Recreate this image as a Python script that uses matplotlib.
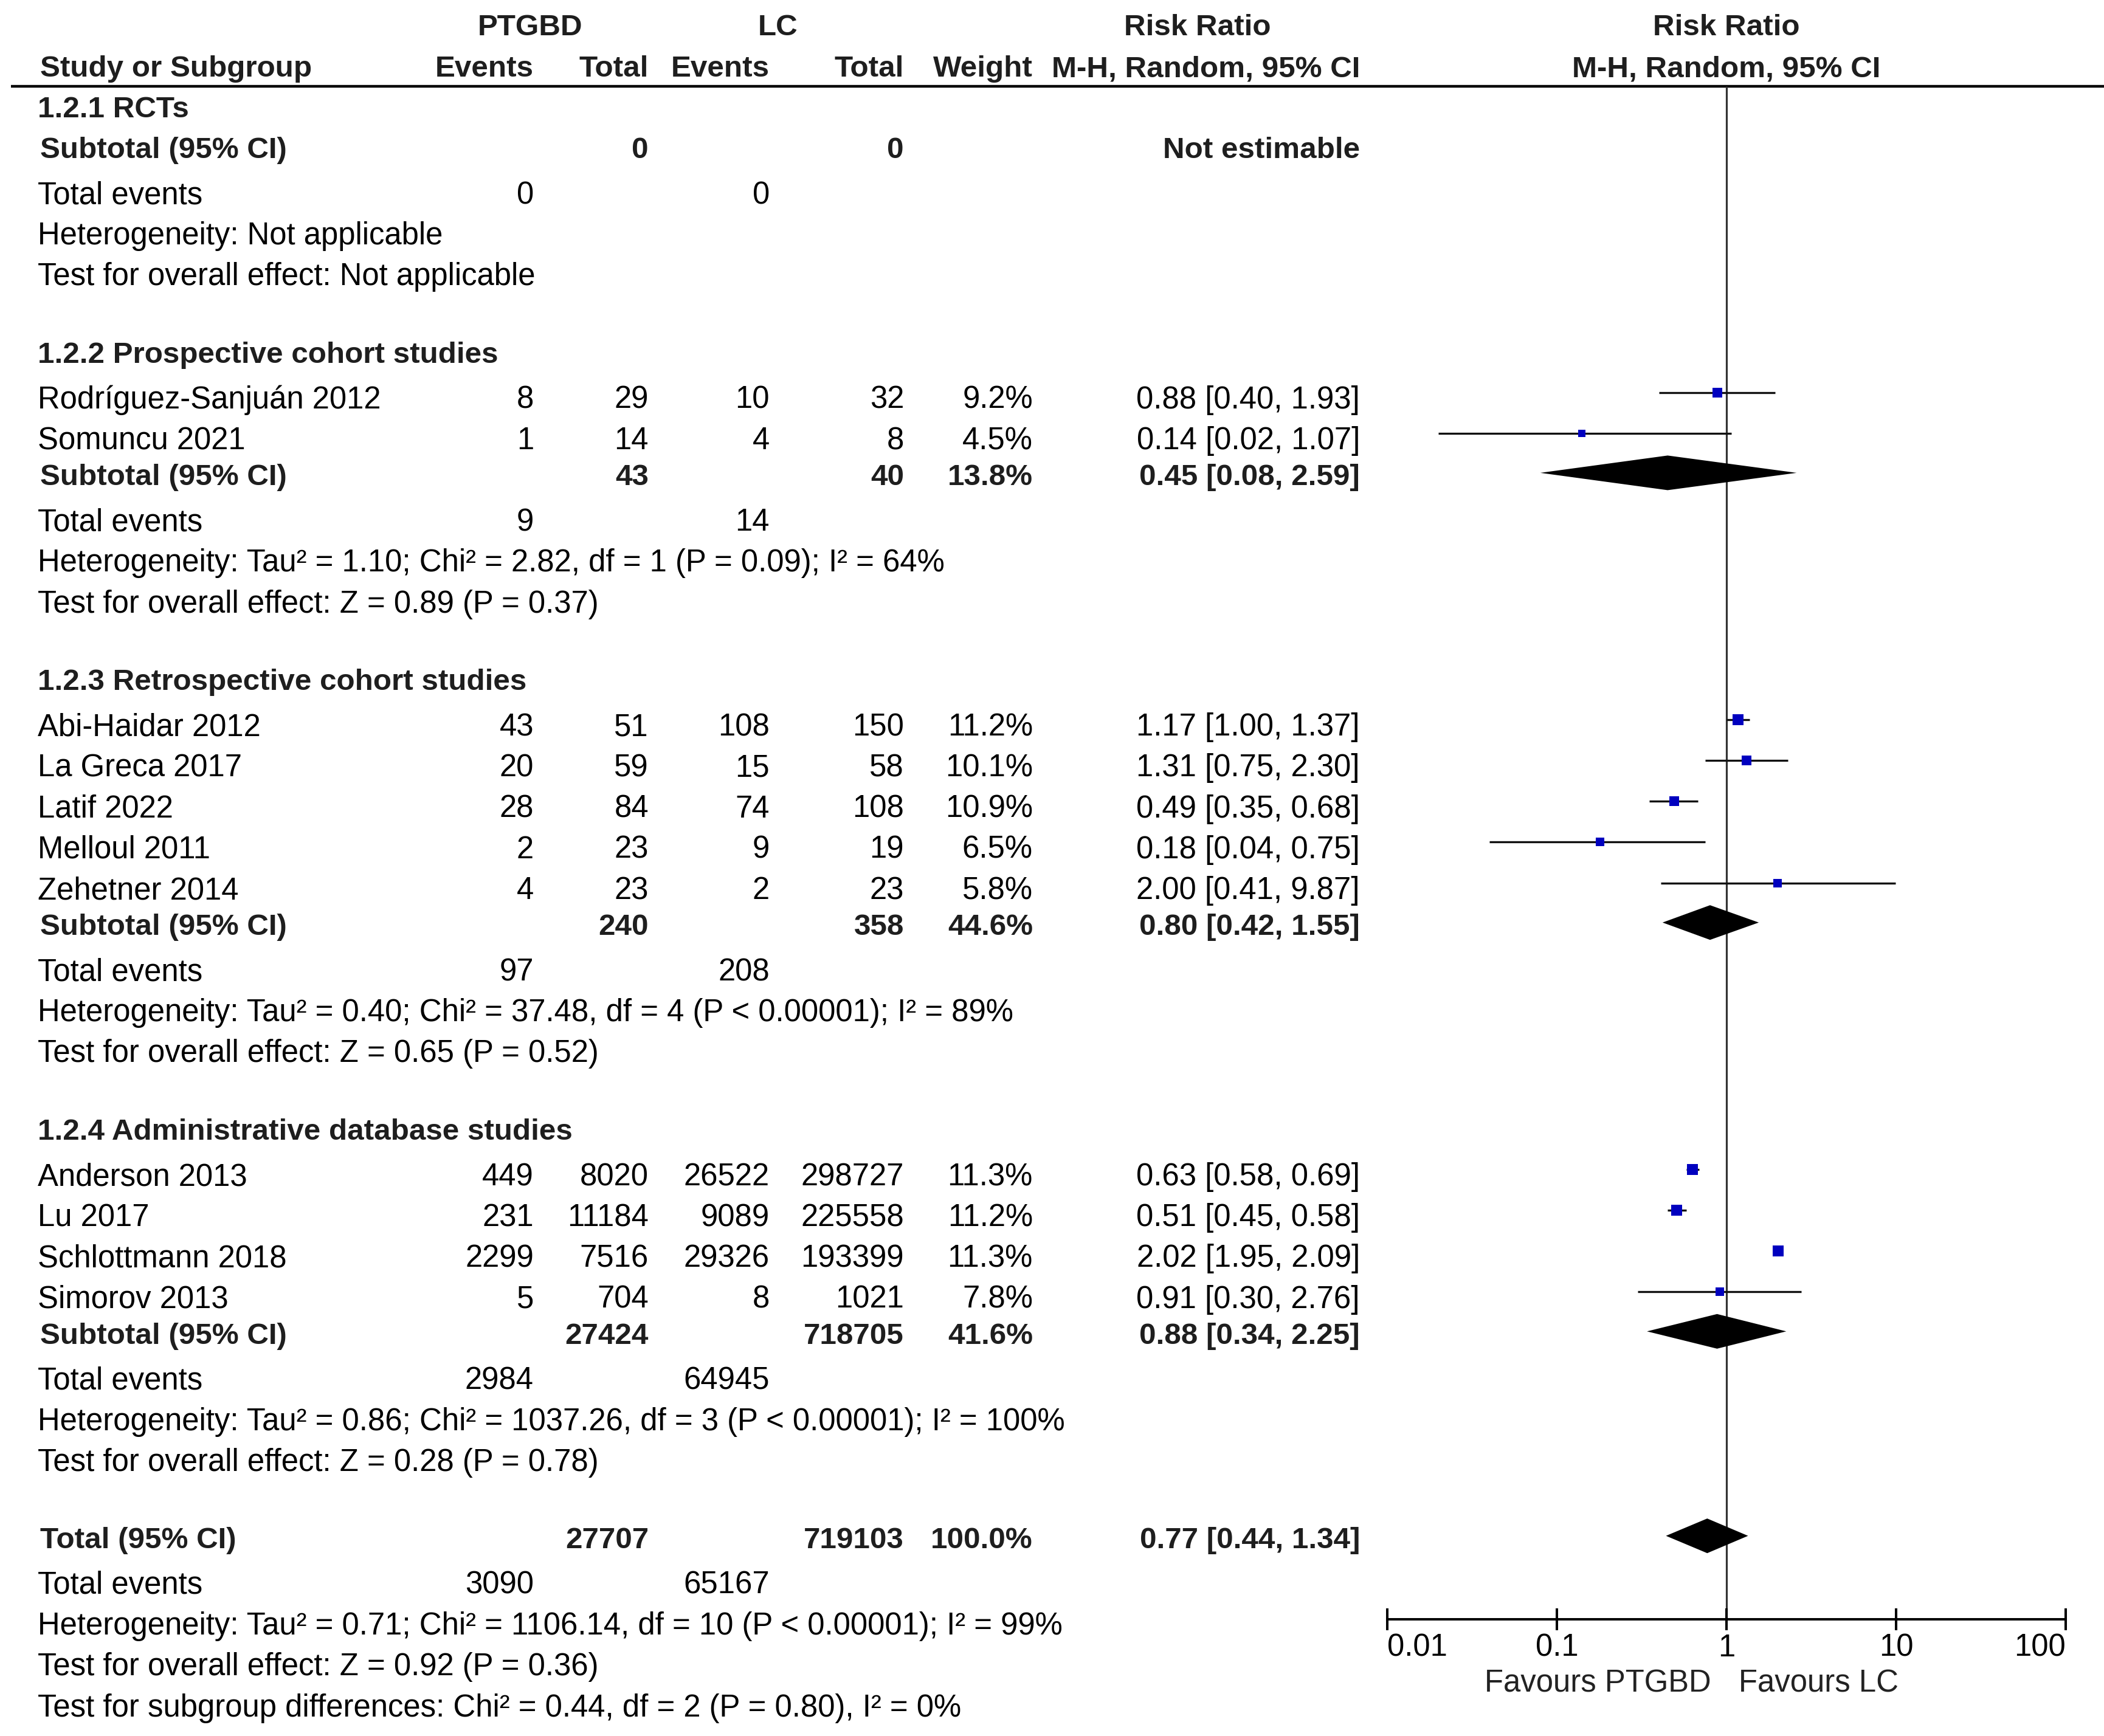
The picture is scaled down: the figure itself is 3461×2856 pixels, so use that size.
import numpy as np
import matplotlib
matplotlib.use("Agg")
import matplotlib.pyplot as plt
from matplotlib.ticker import NullLocator, NullFormatter

# ------------------------------------------------------------------ data
group_titles = ["1.2.1 RCTs", "1.2.2 Prospective cohort studies",
                "1.2.3 Retrospective cohort studies",
                "1.2.4 Administrative database studies"]
group_sizes = [0, 2, 5, 4]

study_names = ["Rodríguez-Sanjuán 2012", "Somuncu 2021",
               "Abi-Haidar 2012", "La Greca 2017", "Latif 2022", "Melloul 2011", "Zehetner 2014",
               "Anderson 2013", "Lu 2017", "Schlottmann 2018", "Simorov 2013"]
ptgbd_events = [8, 1, 43, 20, 28, 2, 4, 449, 231, 2299, 5]
ptgbd_totals = [29, 14, 51, 59, 84, 23, 23, 8020, 11184, 7516, 704]
lc_events = [10, 4, 108, 15, 74, 9, 2, 26522, 9089, 29326, 8]
lc_totals = [32, 8, 150, 58, 108, 19, 23, 298727, 225558, 193399, 1021]
weights = [9.2, 4.5, 11.2, 10.1, 10.9, 6.5, 5.8, 11.3, 11.2, 11.3, 7.8]
rr = [0.88, 0.14, 1.17, 1.31, 0.49, 0.18, 2.00, 0.63, 0.51, 2.02, 0.91]
rr_lo = [0.40, 0.02, 1.00, 0.75, 0.35, 0.04, 0.41, 0.58, 0.45, 1.95, 0.30]
rr_hi = [1.93, 1.07, 1.37, 2.30, 0.68, 0.75, 9.87, 0.69, 0.58, 2.09, 2.76]

sub_ptgbd_totals = [0, 43, 240, 27424]
sub_lc_totals = [0, 40, 358, 718705]
sub_weights = [None, 13.8, 44.6, 41.6]
sub_rr = [None, 0.45, 0.80, 0.88]
sub_lo = [None, 0.08, 0.42, 0.34]
sub_hi = [None, 2.59, 1.55, 2.25]
sub_ptgbd_events = [0, 9, 97, 2984]
sub_lc_events = [0, 14, 208, 64945]
sub_heterogeneity = [
    "Heterogeneity: Not applicable",
    "Heterogeneity: Tau² = 1.10; Chi² = 2.82, df = 1 (P = 0.09); I² = 64%",
    "Heterogeneity: Tau² = 0.40; Chi² = 37.48, df = 4 (P < 0.00001); I² = 89%",
    "Heterogeneity: Tau² = 0.86; Chi² = 1037.26, df = 3 (P < 0.00001); I² = 100%",
]
sub_overall = [
    "Test for overall effect: Not applicable",
    "Test for overall effect: Z = 0.89 (P = 0.37)",
    "Test for overall effect: Z = 0.65 (P = 0.52)",
    "Test for overall effect: Z = 0.28 (P = 0.78)",
]

total_ptgbd = 27707
total_lc = 719103
total_weight = 100.0
total_rr = 0.77
total_lo = 0.44
total_hi = 1.34
total_ptgbd_events = 3090
total_lc_events = 65167
total_heterogeneity = "Heterogeneity: Tau² = 0.71; Chi² = 1106.14, df = 10 (P < 0.00001); I² = 99%"
total_overall = "Test for overall effect: Z = 0.92 (P = 0.36)"
subgroup_test = "Test for subgroup differences: Chi² = 0.44, df = 2 (P = 0.80), I² = 0%"

axis_ticks = [0.01, 0.1, 1, 10, 100]
axis_tick_labels = ["0.01", "0.1", "1", "10", "100"]
favours_left = "Favours PTGBD"
favours_right = "Favours LC"

# ------------------------------------------------------------------ style / layout
plt.rcParams['font.family'] = ['Liberation Sans', 'DejaVu Sans']
W, H = 3462, 2856
FS = 36.6
FSB = 35.6
BASE = 18.0           # baseline below row centre (px)
TXT = '#000000'
BTXT = '#1e1e1e'

X_LEFT = 62
X_LEFT_B = 66
X_EV1 = 878
X_TOT1 = 1067
X_EV2 = 1266
X_TOT2 = 1487
X_W = 1699
X_CI = 2237
FX0, FX1 = 2281.7, 3398.3       # forest axis span for 0.01 .. 100

STEP = 67.2
HEAD_TO_STUDY = 75.4
STUDY_TO_SUB = 59.2
SUB_TO_TE = 74.8
TEST_TO_NEXT = 127.2
LINE_Y = 141.7
AXIS_Y = 2664.3
FAV_Y = 2765.0
MARK_OFF = -8.5
DIAM_OFF = -2.5
DIAM_H = 28.5

fig = plt.figure(figsize=(W / 100, H / 100), dpi=100)
ax = fig.add_axes([0, 0, 1, 1])
ax.set_xlim(0, W)
ax.set_ylim(H, 0)
ax.axis('off')

fx = fig.add_axes([FX0 / W, 0, (FX1 - FX0) / W, 1])
fx.set_xscale('log')
fx.set_xlim(axis_ticks[0], axis_ticks[-1])
fx.set_ylim(H, 0)
fx.patch.set_alpha(0)
for s in ['left', 'right', 'top']:
    fx.spines[s].set_visible(False)
fx.yaxis.set_visible(False)


def put(x, y, s, ha='left', bold=False):
    ax.text(x, y + BASE, s, ha=ha, va='baseline', fontsize=FSB if bold else FS,
            fontweight='bold' if bold else 'normal',
            color=BTXT if bold else TXT)


# header
put(872, 40.5, "PTGBD", ha='center', bold=True)
put(1280, 40.5, "LC", ha='center', bold=True)
put(1970, 40.5, "Risk Ratio", ha='center', bold=True)
put(2840, 40.5, "Risk Ratio", ha='center', bold=True)
hy = 108
put(X_LEFT_B, hy, "Study or Subgroup", bold=True)
put(X_EV1, hy, "Events", ha='right', bold=True)
put(X_TOT1, hy, "Total", ha='right', bold=True)
put(X_EV2, hy, "Events", ha='right', bold=True)
put(X_TOT2, hy, "Total", ha='right', bold=True)
put(X_W, hy, "Weight", ha='right', bold=True)
put(X_CI, hy, "M-H, Random, 95% CI", ha='right', bold=True)
put(2840, hy, "M-H, Random, 95% CI", ha='center', bold=True)
ax.hlines(LINE_Y, 18, W, color='black', lw=3.2)

# vertical line of no effect
fx.vlines(1, LINE_Y, AXIS_Y, color='#333333', lw=2.3, zorder=1)


def fmt_ci(r, lo, hi):
    return f"{r:.2f} [{lo:.2f}, {hi:.2f}]"


y = 175.0
idx = 0
for g, title in enumerate(group_titles):
    put(X_LEFT, y, title, bold=True)
    n = group_sizes[g]
    if n == 0:
        y += STEP
    else:
        y += HEAD_TO_STUDY
        for k in range(n):
            i = idx + k
            put(X_LEFT, y, study_names[i])
            put(X_EV1, y, str(ptgbd_events[i]), ha='right')
            put(X_TOT1, y, str(ptgbd_totals[i]), ha='right')
            put(X_EV2, y, str(lc_events[i]), ha='right')
            put(X_TOT2, y, str(lc_totals[i]), ha='right')
            put(X_W, y, f"{weights[i]:.1f}%", ha='right')
            put(X_CI, y, fmt_ci(rr[i], rr_lo[i], rr_hi[i]), ha='right')
            fx.hlines(y + MARK_OFF, rr_lo[i], rr_hi[i], color='#111111', lw=2.4, zorder=3)
            side = 0.72 * 7.3 * weights[i] ** 0.35
            fx.scatter([rr[i]], [y + MARK_OFF], marker='s', s=side ** 2,
                       color='#0000BF', linewidths=0, zorder=4)
            if k < n - 1:
                y += STEP
        idx += n
        y += STUDY_TO_SUB
    # subtotal
    put(X_LEFT_B, y, "Subtotal (95% CI)", bold=True)
    put(X_TOT1, y, str(sub_ptgbd_totals[g]), ha='right', bold=True)
    put(X_TOT2, y, str(sub_lc_totals[g]), ha='right', bold=True)
    if sub_rr[g] is None:
        put(X_CI, y, "Not estimable", ha='right', bold=True)
    else:
        put(X_W, y, f"{sub_weights[g]:.1f}%", ha='right', bold=True)
        put(X_CI, y, fmt_ci(sub_rr[g], sub_lo[g], sub_hi[g]), ha='right', bold=True)
        yc = y + DIAM_OFF
        fx.fill([sub_lo[g], sub_rr[g], sub_hi[g], sub_rr[g]],
                [yc, yc - DIAM_H, yc, yc + DIAM_H], color='black', lw=0, zorder=3)
    y += SUB_TO_TE
    put(X_LEFT, y, "Total events")
    put(X_EV1, y, str(sub_ptgbd_events[g]), ha='right')
    put(X_EV2, y, str(sub_lc_events[g]), ha='right')
    y += STEP
    put(X_LEFT, y, sub_heterogeneity[g])
    y += STEP
    put(X_LEFT, y, sub_overall[g])
    y += TEST_TO_NEXT

# overall total
put(X_LEFT_B, y, "Total (95% CI)", bold=True)
put(X_TOT1, y, str(total_ptgbd), ha='right', bold=True)
put(X_TOT2, y, str(total_lc), ha='right', bold=True)
put(X_W, y, f"{total_weight:.1f}%", ha='right', bold=True)
put(X_CI, y, fmt_ci(total_rr, total_lo, total_hi), ha='right', bold=True)
yc = y + DIAM_OFF
fx.fill([total_lo, total_rr, total_hi, total_rr],
        [yc, yc - DIAM_H, yc, yc + DIAM_H], color='black', lw=0, zorder=3)
y += SUB_TO_TE
put(X_LEFT, y, "Total events")
put(X_EV1, y, str(total_ptgbd_events), ha='right')
put(X_EV2, y, str(total_lc_events), ha='right')
y += STEP
put(X_LEFT, y, total_heterogeneity)
y += STEP
put(X_LEFT, y, total_overall)
y += STEP
put(X_LEFT, y, subgroup_test)

# forest x axis
fx.spines['bottom'].set_position(('data', AXIS_Y))
fx.spines['bottom'].set_linewidth(2.9)
fx.spines['bottom'].set_color('black')
fx.set_xticks(axis_ticks)
fx.set_xticklabels(axis_tick_labels)
fx.xaxis.set_minor_locator(NullLocator())
fx.xaxis.set_minor_formatter(NullFormatter())
fx.tick_params(axis='x', which='major', direction='inout', length=26.6, width=2.9,
               color='black', labelsize=FS, labelcolor='black', pad=3.0)
labs = fx.get_xticklabels()
labs[0].set_ha('left')
labs[-1].set_ha('right')

fx.annotate(favours_left, xy=(1, FAV_Y + BASE), xytext=(-18, 0), textcoords='offset points',
            ha='right', va='baseline', fontsize=FS, color='#222222', annotation_clip=False)
fx.annotate(favours_right, xy=(1, FAV_Y + BASE), xytext=(14.4, 0), textcoords='offset points',
            ha='left', va='baseline', fontsize=FS, color='#222222', annotation_clip=False)

fig.savefig("out.png", dpi=100, facecolor='white')
